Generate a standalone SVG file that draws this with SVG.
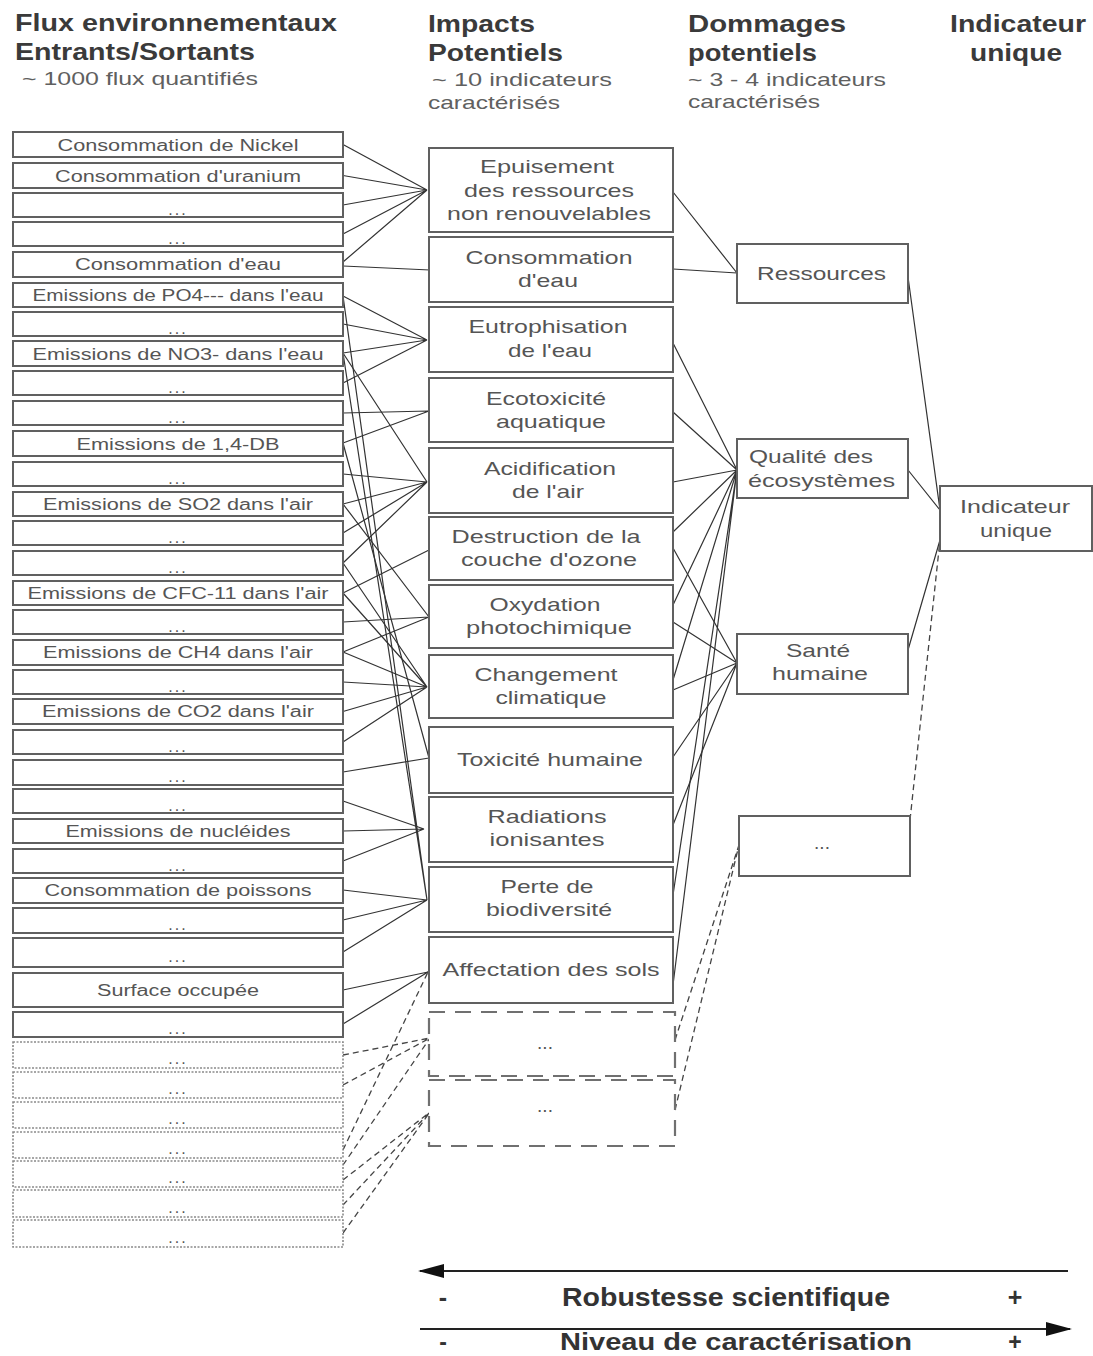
<svg xmlns="http://www.w3.org/2000/svg" width="1093" height="1356" viewBox="0 0 1093 1356">
<style>
.bg{fill:#fff}
.b{fill:#fff;stroke:#606060;stroke-width:2}
.bdot{fill:#fff;stroke:#8a8a8a;stroke-width:1.6;stroke-dasharray:2 1.5}
.bdash{fill:#fff;stroke:#707070;stroke-width:2.2;stroke-dasharray:16 10}
.t{font-family:"Liberation Sans",Arial,sans-serif;fill:#555}
.l{font-size:16px;text-anchor:middle}
.dots{font-size:16px;text-anchor:middle;letter-spacing:2px}
.m{font-size:19px;text-anchor:middle}
.r{font-size:19px}
.h{font-family:"Liberation Sans",Arial,sans-serif;font-size:24px;font-weight:bold;fill:#3a3a3a}
.s{font-family:"Liberation Sans",Arial,sans-serif;font-size:19px;fill:#606060}
.c{stroke:#333;stroke-width:1.2;fill:none}
.cd{stroke:#444;stroke-width:1.3;fill:none;stroke-dasharray:6 4}
.ax{stroke:#222;stroke-width:1.8;fill:none}
.bt{font-family:"Liberation Sans Narrow","Liberation Sans",Arial,sans-serif;font-size:25px;font-weight:bold;fill:#333}
.bt2{font-family:"Liberation Sans Narrow","Liberation Sans",Arial,sans-serif;font-size:23px;font-weight:bold;fill:#333}
</style>
<defs>
<marker id="ah" viewBox="0 0 26 14" refX="24" refY="7" markerWidth="26" markerHeight="14" markerUnits="userSpaceOnUse" orient="auto">
<path d="M0,0 L26,7 L0,14 Z" fill="#111"/>
</marker>
</defs>
<rect class="bg" x="0" y="0" width="1093" height="1356"/>

<g id="headers">
<text class="h" x="15" y="31" textLength="322" lengthAdjust="spacingAndGlyphs">Flux environnementaux</text>
<text class="h" x="15" y="60" textLength="240" lengthAdjust="spacingAndGlyphs">Entrants/Sortants</text>
<text class="s" x="22" y="85" textLength="236" lengthAdjust="spacingAndGlyphs">~ 1000 flux quantifiés</text>
<text class="h" x="428" y="32" textLength="107" lengthAdjust="spacingAndGlyphs">Impacts</text>
<text class="h" x="428" y="61" textLength="135" lengthAdjust="spacingAndGlyphs">Potentiels</text>
<text class="s" x="432" y="86" textLength="180" lengthAdjust="spacingAndGlyphs">~ 10 indicateurs</text>
<text class="s" x="428" y="109" textLength="132" lengthAdjust="spacingAndGlyphs">caractérisés</text>
<text class="h" x="688" y="32" textLength="158" lengthAdjust="spacingAndGlyphs">Dommages</text>
<text class="h" x="688" y="61" textLength="129" lengthAdjust="spacingAndGlyphs">potentiels</text>
<text class="s" x="688" y="86" textLength="198" lengthAdjust="spacingAndGlyphs">~ 3 - 4 indicateurs</text>
<text class="s" x="688" y="108" textLength="132" lengthAdjust="spacingAndGlyphs">caractérisés</text>
<text class="h" x="950" y="32" textLength="136" lengthAdjust="spacingAndGlyphs">Indicateur</text>
<text class="h" x="970" y="61" textLength="92" lengthAdjust="spacingAndGlyphs">unique</text>
</g>

<g id="connectors">
<path class="c" d="M343,144.5 L427,190 M343,175.5 L427,190 M343,205 L427,190 M343,234 L427,190 M343,262 L427,190"/>
<path class="c" d="M343,266 L430,270"/>
<path class="c" d="M343,296 L427,340 M343,324 L427,340 M343,353 L427,340 M343,383 L427,340"/>
<path class="c" d="M343,413 L429,411 M343,443 L429,411"/>
<path class="c" d="M343,353 L427,482 M343,474 L427,482 M343,504 L427,482 M343,533 L427,482 M343,563 L427,482"/>
<path class="c" d="M343,593 L429,550"/>
<path class="c" d="M343,504 L429,617 M343,622 L429,617 M343,652 L429,617"/>
<path class="c" d="M343,593 L427,687 M343,563 L427,687 M343,652 L427,687 M343,682 L427,687 M343,711.5 L427,687 M343,742 L427,687"/>
<path class="c" d="M343,443 L429,758 M343,772 L429,758"/>
<path class="c" d="M343,801 L424,829 M343,831 L424,829 M343,861 L424,829"/>
<path class="c" d="M343,296 L427,900 M343,353 L427,900 M343,890 L427,900 M343,920 L427,900 M343,952 L427,900"/>
<path class="c" d="M343,990 L428,972 M343,1024 L428,972"/>
<path class="cd" d="M343,1150 L428,972"/>
<path class="cd" d="M343,1055 L430,1038 M343,1085 L430,1038 M343,1165 L430,1038"/>
<path class="cd" d="M343,1205 L430,1112 M343,1233 L430,1112 M343,1180 L430,1112"/>
<path class="c" d="M673,192 L737,273 M673,269 L737,273"/>
<path class="c" d="M673,343 L737,470 M673,412 L737,470 M673,482 L737,470 M673,532 L737,470 M673,605 L737,470 M673,680 L737,470 M673,895 L737,470 M673,985 L737,470"/>
<path class="c" d="M673,548 L737,663 M673,622 L737,663 M673,690 L737,663 M673,757 L737,663 M673,825 L737,663"/>
<path class="cd" d="M675,1040 L739,845 M675,1110 L739,845"/>
<path class="c" d="M908,277 L940,510 M908,470 L940,510 M908,650 L940,540"/>
<path class="cd" d="M910,820 L940,540"/>
</g>

<g id="flux">
<g id="f1"><rect class="b" x="13" y="132" width="330" height="25"/><text class="t l" x="178" y="151" textLength="241" lengthAdjust="spacingAndGlyphs">Consommation de Nickel</text></g>
<g id="f2"><rect class="b" x="13" y="163" width="330" height="25"/><text class="t l" x="178" y="182" textLength="246" lengthAdjust="spacingAndGlyphs">Consommation d'uranium</text></g>
<g id="f3"><rect class="b" x="13" y="193" width="330" height="24"/><text class="t dots" x="178" y="215">...</text></g>
<g id="f4"><rect class="b" x="13" y="222" width="330" height="24"/><text class="t dots" x="178" y="244">...</text></g>
<g id="f5"><rect class="b" x="13" y="252" width="330" height="25"/><text class="t l" x="178" y="270" textLength="206" lengthAdjust="spacingAndGlyphs">Consommation d'eau</text></g>
<g id="f6"><rect class="b" x="13" y="283" width="330" height="24"/><text class="t l" x="178" y="301" textLength="291" lengthAdjust="spacingAndGlyphs">Emissions de PO4--- dans l'eau</text></g>
<g id="f7"><rect class="b" x="13" y="312" width="330" height="24"/><text class="t dots" x="178" y="334">...</text></g>
<g id="f8"><rect class="b" x="13" y="341" width="330" height="25"/><text class="t l" x="178" y="360" textLength="291" lengthAdjust="spacingAndGlyphs">Emissions de NO3- dans l'eau</text></g>
<g id="f9"><rect class="b" x="13" y="371" width="330" height="24"/><text class="t dots" x="178" y="393">...</text></g>
<g id="f10"><rect class="b" x="13" y="401" width="330" height="24"/><text class="t dots" x="178" y="423">...</text></g>
<g id="f11"><rect class="b" x="13" y="431" width="330" height="25"/><text class="t l" x="178" y="450" textLength="203" lengthAdjust="spacingAndGlyphs">Emissions de 1,4-DB</text></g>
<g id="f12"><rect class="b" x="13" y="462" width="330" height="24"/><text class="t dots" x="178" y="484">...</text></g>
<g id="f13"><rect class="b" x="13" y="492" width="330" height="24"/><text class="t l" x="178" y="510" textLength="270" lengthAdjust="spacingAndGlyphs">Emissions de SO2 dans l'air</text></g>
<g id="f14"><rect class="b" x="13" y="521" width="330" height="24"/><text class="t dots" x="178" y="543">...</text></g>
<g id="f15"><rect class="b" x="13" y="551" width="330" height="24"/><text class="t dots" x="178" y="573">...</text></g>
<g id="f16"><rect class="b" x="13" y="581" width="330" height="24"/><text class="t l" x="178" y="599" textLength="301" lengthAdjust="spacingAndGlyphs">Emissions de CFC-11 dans l'air</text></g>
<g id="f17"><rect class="b" x="13" y="610" width="330" height="24"/><text class="t dots" x="178" y="632">...</text></g>
<g id="f18"><rect class="b" x="13" y="640" width="330" height="25"/><text class="t l" x="178" y="658" textLength="270" lengthAdjust="spacingAndGlyphs">Emissions de CH4 dans l'air</text></g>
<g id="f19"><rect class="b" x="13" y="670" width="330" height="24"/><text class="t dots" x="178" y="692">...</text></g>
<g id="f20"><rect class="b" x="13" y="699" width="330" height="25"/><text class="t l" x="178" y="717" textLength="272" lengthAdjust="spacingAndGlyphs">Emissions de CO2 dans l'air</text></g>
<g id="f21"><rect class="b" x="13" y="730" width="330" height="24"/><text class="t dots" x="178" y="752">...</text></g>
<g id="f22"><rect class="b" x="13" y="760" width="330" height="25"/><text class="t dots" x="178" y="782">...</text></g>
<g id="f23"><rect class="b" x="13" y="789" width="330" height="24"/><text class="t dots" x="178" y="811">...</text></g>
<g id="f24"><rect class="b" x="13" y="819" width="330" height="24"/><text class="t l" x="178" y="837" textLength="225" lengthAdjust="spacingAndGlyphs">Emissions de nucléides</text></g>
<g id="f25"><rect class="b" x="13" y="849" width="330" height="24"/><text class="t dots" x="178" y="871">...</text></g>
<g id="f26"><rect class="b" x="13" y="878" width="330" height="25"/><text class="t l" x="178" y="896" textLength="267" lengthAdjust="spacingAndGlyphs">Consommation de poissons</text></g>
<g id="f27"><rect class="b" x="13" y="908" width="330" height="25"/><text class="t dots" x="178" y="930">...</text></g>
<g id="f28"><rect class="b" x="13" y="938" width="330" height="29"/><text class="t dots" x="178" y="962">...</text></g>
<g id="f29"><rect class="b" x="13" y="973" width="330" height="34"/><text class="t l" x="178" y="996" textLength="162" lengthAdjust="spacingAndGlyphs">Surface occupée</text></g>
<g id="f30"><rect class="b" x="13" y="1012" width="330" height="25"/><text class="t dots" x="178" y="1034">...</text></g>
<g id="f31"><rect class="bdot" x="13" y="1042" width="330" height="26"/><text class="t dots" x="178" y="1064">...</text></g>
<g id="f32"><rect class="bdot" x="13" y="1072" width="330" height="26"/><text class="t dots" x="178" y="1094">...</text></g>
<g id="f33"><rect class="bdot" x="13" y="1102" width="330" height="26"/><text class="t dots" x="178" y="1124">...</text></g>
<g id="f34"><rect class="bdot" x="13" y="1132" width="330" height="26"/><text class="t dots" x="178" y="1154">...</text></g>
<g id="f35"><rect class="bdot" x="13" y="1161" width="330" height="26"/><text class="t dots" x="178" y="1183">...</text></g>
<g id="f36"><rect class="bdot" x="13" y="1190" width="330" height="27"/><text class="t dots" x="178" y="1213">...</text></g>
<g id="f37"><rect class="bdot" x="13" y="1220" width="330" height="27"/><text class="t dots" x="178" y="1243">...</text></g>
</g>

<g id="impacts">
<g id="i1"><rect class="b" x="429" y="148" width="244" height="84"/>
<text class="t m" x="547" y="173" textLength="134" lengthAdjust="spacingAndGlyphs">Epuisement</text>
<text class="t m" x="549" y="197" textLength="170" lengthAdjust="spacingAndGlyphs">des ressources</text>
<text class="t m" x="549" y="220" textLength="204" lengthAdjust="spacingAndGlyphs">non renouvelables</text></g>
<g id="i2"><rect class="b" x="429" y="237" width="244" height="65"/>
<text class="t m" x="549" y="264" textLength="167" lengthAdjust="spacingAndGlyphs">Consommation</text>
<text class="t m" x="548" y="287" textLength="60" lengthAdjust="spacingAndGlyphs">d'eau</text></g>
<g id="i3"><rect class="b" x="429" y="307" width="244" height="65"/>
<text class="t m" x="548" y="333" textLength="159" lengthAdjust="spacingAndGlyphs">Eutrophisation</text>
<text class="t m" x="550" y="357" textLength="84" lengthAdjust="spacingAndGlyphs">de l'eau</text></g>
<g id="i4"><rect class="b" x="429" y="378" width="244" height="64"/>
<text class="t m" x="546" y="405" textLength="120" lengthAdjust="spacingAndGlyphs">Ecotoxicité</text>
<text class="t m" x="551" y="428" textLength="110" lengthAdjust="spacingAndGlyphs">aquatique</text></g>
<g id="i5"><rect class="b" x="429" y="448" width="244" height="65"/>
<text class="t m" x="550" y="475" textLength="132" lengthAdjust="spacingAndGlyphs">Acidification</text>
<text class="t m" x="548" y="498" textLength="72" lengthAdjust="spacingAndGlyphs">de l'air</text></g>
<g id="i6"><rect class="b" x="429" y="517" width="244" height="63"/>
<text class="t m" x="546" y="543" textLength="189" lengthAdjust="spacingAndGlyphs">Destruction de la</text>
<text class="t m" x="549" y="566" textLength="176" lengthAdjust="spacingAndGlyphs">couche d'ozone</text></g>
<g id="i7"><rect class="b" x="429" y="585" width="244" height="63"/>
<text class="t m" x="545" y="611" textLength="111" lengthAdjust="spacingAndGlyphs">Oxydation</text>
<text class="t m" x="549" y="634" textLength="166" lengthAdjust="spacingAndGlyphs">photochimique</text></g>
<g id="i8"><rect class="b" x="429" y="655" width="244" height="63"/>
<text class="t m" x="546" y="681" textLength="143" lengthAdjust="spacingAndGlyphs">Changement</text>
<text class="t m" x="551" y="704" textLength="111" lengthAdjust="spacingAndGlyphs">climatique</text></g>
<g id="i9"><rect class="b" x="429" y="727" width="244" height="66"/>
<text class="t m" x="550" y="766" textLength="186" lengthAdjust="spacingAndGlyphs">Toxicité humaine</text></g>
<g id="i10"><rect class="b" x="429" y="797" width="244" height="65"/>
<text class="t m" x="547" y="823" textLength="119" lengthAdjust="spacingAndGlyphs">Radiations</text>
<text class="t m" x="547" y="846" textLength="115" lengthAdjust="spacingAndGlyphs">ionisantes</text></g>
<g id="i11"><rect class="b" x="429" y="867" width="244" height="65"/>
<text class="t m" x="547" y="893" textLength="93" lengthAdjust="spacingAndGlyphs">Perte de</text>
<text class="t m" x="549" y="916" textLength="126" lengthAdjust="spacingAndGlyphs">biodiversité</text></g>
<g id="i12"><rect class="b" x="429" y="937" width="244" height="66"/>
<text class="t m" x="551" y="976" textLength="217" lengthAdjust="spacingAndGlyphs">Affectation des sols</text></g>
<g id="i13"><rect class="bdash" x="429" y="1012" width="246" height="64"/>
<text class="t m" x="545" y="1049">...</text></g>
<g id="i14"><rect class="bdash" x="429" y="1080" width="246" height="66"/>
<text class="t m" x="545" y="1112">...</text></g>
</g>

<g id="damages">
<g id="d1"><rect class="b" x="737" y="244" width="171" height="59"/>
<text class="t r" x="757" y="280" textLength="129" lengthAdjust="spacingAndGlyphs">Ressources</text></g>
<g id="d2"><rect class="b" x="737" y="439" width="171" height="59"/>
<text class="t r" x="749" y="463" textLength="124" lengthAdjust="spacingAndGlyphs">Qualité des</text>
<text class="t r" x="748" y="487" textLength="147" lengthAdjust="spacingAndGlyphs">écosystèmes</text></g>
<g id="d3"><rect class="b" x="737" y="634" width="171" height="60"/>
<text class="t m" x="818" y="657" textLength="64" lengthAdjust="spacingAndGlyphs">Santé</text>
<text class="t m" x="820" y="680" textLength="96" lengthAdjust="spacingAndGlyphs">humaine</text></g>
<g id="d4"><rect class="b" x="739" y="816" width="171" height="60"/>
<text class="t m" x="822" y="849">...</text></g>
</g>

<g id="indicator">
<rect class="b" x="940" y="486" width="152" height="65"/>
<text class="t m" x="1015" y="513" textLength="110" lengthAdjust="spacingAndGlyphs">Indicateur</text>
<text class="t m" x="1016" y="537" textLength="72" lengthAdjust="spacingAndGlyphs">unique</text>
</g>

<g id="scale">
<line class="ax" x1="1068" y1="1271" x2="420" y2="1271" marker-end="url(#ah)"/>
<line class="ax" x1="420" y1="1329" x2="1070" y2="1329" marker-end="url(#ah)"/>
<text class="bt" x="443" y="1306" text-anchor="middle">-</text>
<text class="bt" x="726" y="1306" text-anchor="middle" textLength="328" lengthAdjust="spacingAndGlyphs">Robustesse scientifique</text>
<text class="bt" x="1015" y="1306" text-anchor="middle">+</text>
<text class="bt2" x="443" y="1350" text-anchor="middle">-</text>
<text class="bt2" x="736" y="1350" text-anchor="middle" textLength="352" lengthAdjust="spacingAndGlyphs">Niveau de caractérisation</text>
<text class="bt2" x="1015" y="1350" text-anchor="middle">+</text>
</g>
</svg>
